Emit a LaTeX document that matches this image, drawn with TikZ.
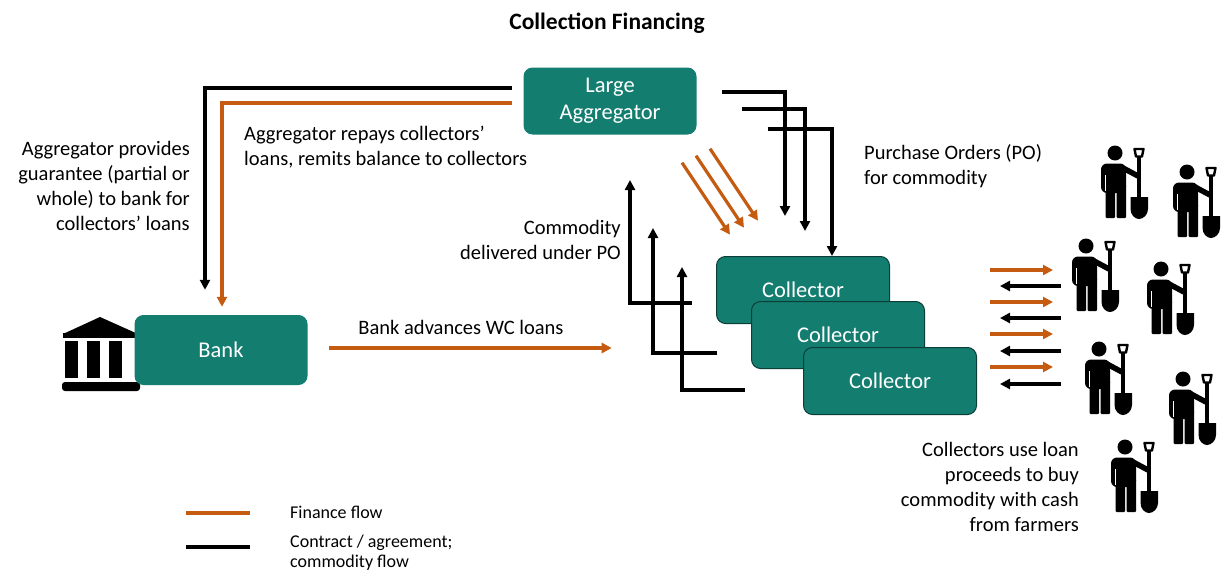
\documentclass[tikz,border=0pt]{standalone}
\usepackage{fontspec}
\setmainfont{Carlito}
\usetikzlibrary{arrows.meta,calc}

\definecolor{tealbox}{RGB}{19,125,112}
\definecolor{tealedge}{RGB}{12,62,56}
\definecolor{finorange}{RGB}{197,90,17}

\newcommand\notefont{\fontsize{20.5}{25}\selectfont}
\newcommand\boxfont{\fontsize{22.5}{27}\selectfont}
\newcommand\legfont{\fontsize{18}{20}\selectfont}

\tikzset{
  box/.style={rectangle, rounded corners=9pt, fill=tealbox, text=white,
    minimum width=173pt, minimum height=67pt, align=center, font=\boxfont, inner sep=0pt},
  collbox/.style={box, draw=tealedge, line width=1pt},
  fin/.style={draw=finorange, line width=3.2pt, -{Triangle[length=10pt,width=10pt]}},
  con/.style={draw=black, line width=3.2pt, -{Triangle[length=10pt,width=10pt]}},
  note/.style={font=\notefont, inner sep=0pt},
}

\begin{document}
\begin{tikzpicture}[x=1pt,y=-1pt]
\useasboundingbox (0,0) rectangle (1225,573);
\node[font=\fontsize{23.5}{28}\selectfont\bfseries] (title) at (607,23) {Collection Financing};

% boxes
\node[box] (agg) at (610,101) {Large\\Aggregator};
% bank icon
\fill (63,334) -- (100,317) -- (138,334) -- cycle;
\fill (63,333) rectangle (138,338);
\foreach \x in {65,87,109}
    \fill (\x,341) rectangle ++(13,37);
\fill[rounded corners=3pt] (62,382) rectangle (140,391);
\node[box, minimum height=70pt] (bank) at (221,350) {Bank};
\node[collbox] (col1) at (803,290) {Collector};
\node[collbox] (col2) at (838,335) {Collector};
\node[collbox] (col3) at (890,381) {Collector};

% aggregator to bank
\draw[con] ([shift={(-11,-13)}]agg.west) -| ([shift={(-16,-25)}]bank.north);
\draw[fin] ([shift={(-11,2)}]agg.west) -| ([shift={(1,-8)}]bank.north);

% purchase orders
\foreach \sx/\sy/\ex/\ey in {25/-9/-18/-40, 45/8/2/-25, 71/28/29/0}
    \draw[con] ([shift={(\sx,\sy)}]agg.east) -| ([shift={(\ex,\ey)}]col1.north);
% repayments
\foreach \i in {0,1,2}
    \draw[fin] ([shift={(72+14*\i,28-7*\i)}]agg.south) -- ++(48,72);
% commodity delivered
\foreach \s/\sx/\sy/\cx/\ty in {col1/-24/13/630/180, col2/-34/18/653/228, col3/-58/9/682/267}
    \draw[con] ([shift={(\sx,\sy)}]\s.west) -| (\cx,\ty);

% bank loans
\draw[fin] ([shift={(21,-2)}]bank.east) -- ++(283,0);

% collectors and farmers
\foreach \y in {270,302,334,367}
    \draw[fin] (990,\y) -- (1053,\y);
\foreach \y in {286,318,351,384}
    \draw[con] (1061,\y) -- (1000,\y);

% farmers
\foreach \fx/\fy in {1115/153, 1187/172, 1086/246, 1161/269, 1099/349, 1183/379, 1125/447} {
  \begin{scope}[shift={(\fx,\fy)}]
    \fill (0,0) circle (7.5pt);
    \fill[rounded corners=6pt] (-14,10.5) rectangle (11,40);
    \fill[rounded corners=1pt] (-9.5,32) rectangle (0,65);
    \fill[rounded corners=1pt] (1.5,32) rectangle (11,65);
    \draw[white, line width=0.9pt] (-9.5,22) -- (-9.5,38);
    \draw[line width=5.5pt, line cap=round] (8,15) -- (23,23);
    \draw[line width=3.2pt] (24,3) -- (24,46);
    \draw[line width=2.4pt, line join=round] (19.5,-4) -- (28.5,-4) -- (27,3.5) -- (21,3.5) -- cycle;
    \fill (15.5,44) -- (33,44) -- (33,56) .. controls (33,62) and (28,66) .. (24,66)
      .. controls (20,66) and (15.5,62) .. (15.5,56) -- cycle;
  \end{scope}
}

% labels
\node[note, anchor=east, align=right] (guar) at (190,186) {Aggregator provides\\guarantee (partial or\\whole) to bank for\\collectors' loans};
\node[note, anchor=west, align=left] (repay) at (244,147) {Aggregator repays collectors'\\loans, remits balance to collectors};
\node[note, anchor=west, align=left] (po) at (864,166) {Purchase Orders (PO)\\for commodity};
\node[note, anchor=east, align=right] (deliv) at (621,240) {Commodity\\delivered under PO};
\node[note] (adv) at (461,327) {Bank advances WC loans};
\node[note, anchor=east, align=right] (cash) at (1079,487) {Collectors use loan\\proceeds to buy\\commodity with cash\\from farmers};

% legend
\draw[finorange, line width=3.2pt] (186,513) -- (250,513);
\draw[line width=3.2pt] (186,547) -- (250,547);
\node[font=\legfont, inner sep=0pt, anchor=west] (lfin) at (290,512) {Finance flow};
\node[font=\legfont, inner sep=0pt, anchor=west, align=left] (lcon) at (290,553) {Contract / agreement;\\commodity flow};
\end{tikzpicture}
\end{document}
